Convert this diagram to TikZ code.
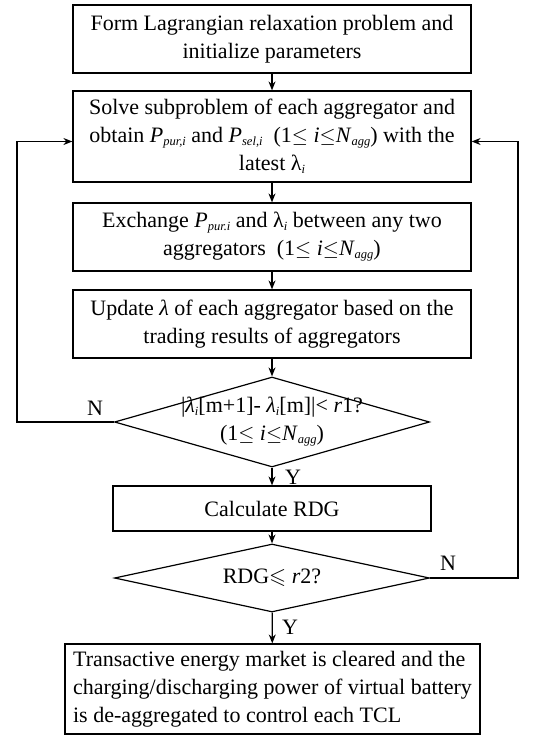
\documentclass[tikz,border=0pt]{standalone}
\usepackage{fontspec}
\usepackage{amssymb}
\setmainfont{Liberation Serif}
\usetikzlibrary{shapes.geometric,arrows.meta}
\newcommand{\sbs}[1]{\raisebox{-0.3ex}{\fontsize{12.5}{13}\selectfont\textit{#1}}}
\begin{document}
\begin{tikzpicture}[x=1pt,y=-1pt,
  font=\fontsize{22}{28}\selectfont,
  line width=1.2pt,
  proc/.style={draw, rectangle, inner sep=0pt, align=center, minimum width=398pt, minimum height=68pt},
  dec/.style={draw, diamond, inner sep=0pt, minimum width=315pt, minimum height=90pt},
  arr/.style={-{Stealth[length=9pt,width=7pt]}},
  lab/.style={inner sep=0pt}]
\useasboundingbox (0,0) rectangle (537,736);
\node[proc] (b1) at (272,39) {Form Lagrangian relaxation problem and\\initialize parameters};
\node[proc, minimum height=91pt] (b2) at (272,136.5) {Solve subproblem of each aggregator and\\obtain \textit{P}\sbs{pur,i} and \textit{P}\sbs{sel,i}\hspace{0.5em}(1$\leq$ \textit{i}$\leq$\textit{N}\sbs{agg}) with the\\latest λ\sbs{i}};
\node[proc] (b3) at (272,237) {Exchange \textit{P}\sbs{pur.i} and λ\sbs{i} between any two\\aggregators\ \ (1$\leq$ \textit{i}$\leq$\textit{N}\sbs{agg})};
\node[proc] (b4) at (272,324) {Update \textit{λ} of each aggregator based on the\\trading results of aggregators};
\node[dec] (d1) at (272,422) {};
\node[lab, align=center] (t1) at (d1.center) {|\textit{λ}\sbs{i}[m+1]- \textit{λ}\sbs{i}[m]|< \textit{r}1?\\(1$\leq$ \textit{i}$\leq$\textit{N}\sbs{agg})};
\node[proc, minimum width=318pt, minimum height=45pt] (b5) at (272,508.5) {Calculate RDG};
\node[dec, minimum height=68pt] (d2) at (272,578) {};
\node[lab] (t2) at (d2.center) {RDG$\leqslant$ \textit{r}2?};
\node[proc, minimum width=415pt, minimum height=90pt, align=left] (b6) at (272.5,689) {Transactive energy market is cleared and the\\charging/discharging power of virtual battery\\is de-aggregated to control each TCL};
\draw[arr] (b1) -- (b2);
\draw[arr] (b2) -- (b3);
\draw[arr] (b3) -- (b4);
\draw[arr] (b4) -- (d1);
\draw[arr] (d1) -- (b5);
\draw[arr] (b5) -- (d2);
\draw[arr] (d2) -- (b6);
\coordinate (cl) at (17,422);
\coordinate (cr) at (518,578);
\draw[arr] (d1.west) -- (cl) |- ([yshift=-5pt]b2.west);
\draw[arr] (d2.east) -- (cr) |- ([yshift=-5pt]b2.east);
\node[lab] (n1) at (95,408) {N};
\node[lab] (y1) at (293,477) {Y};
\node[lab] (n2) at (448,563) {N};
\node[lab] (y2) at (290,627) {Y};
\end{tikzpicture}
\end{document}
